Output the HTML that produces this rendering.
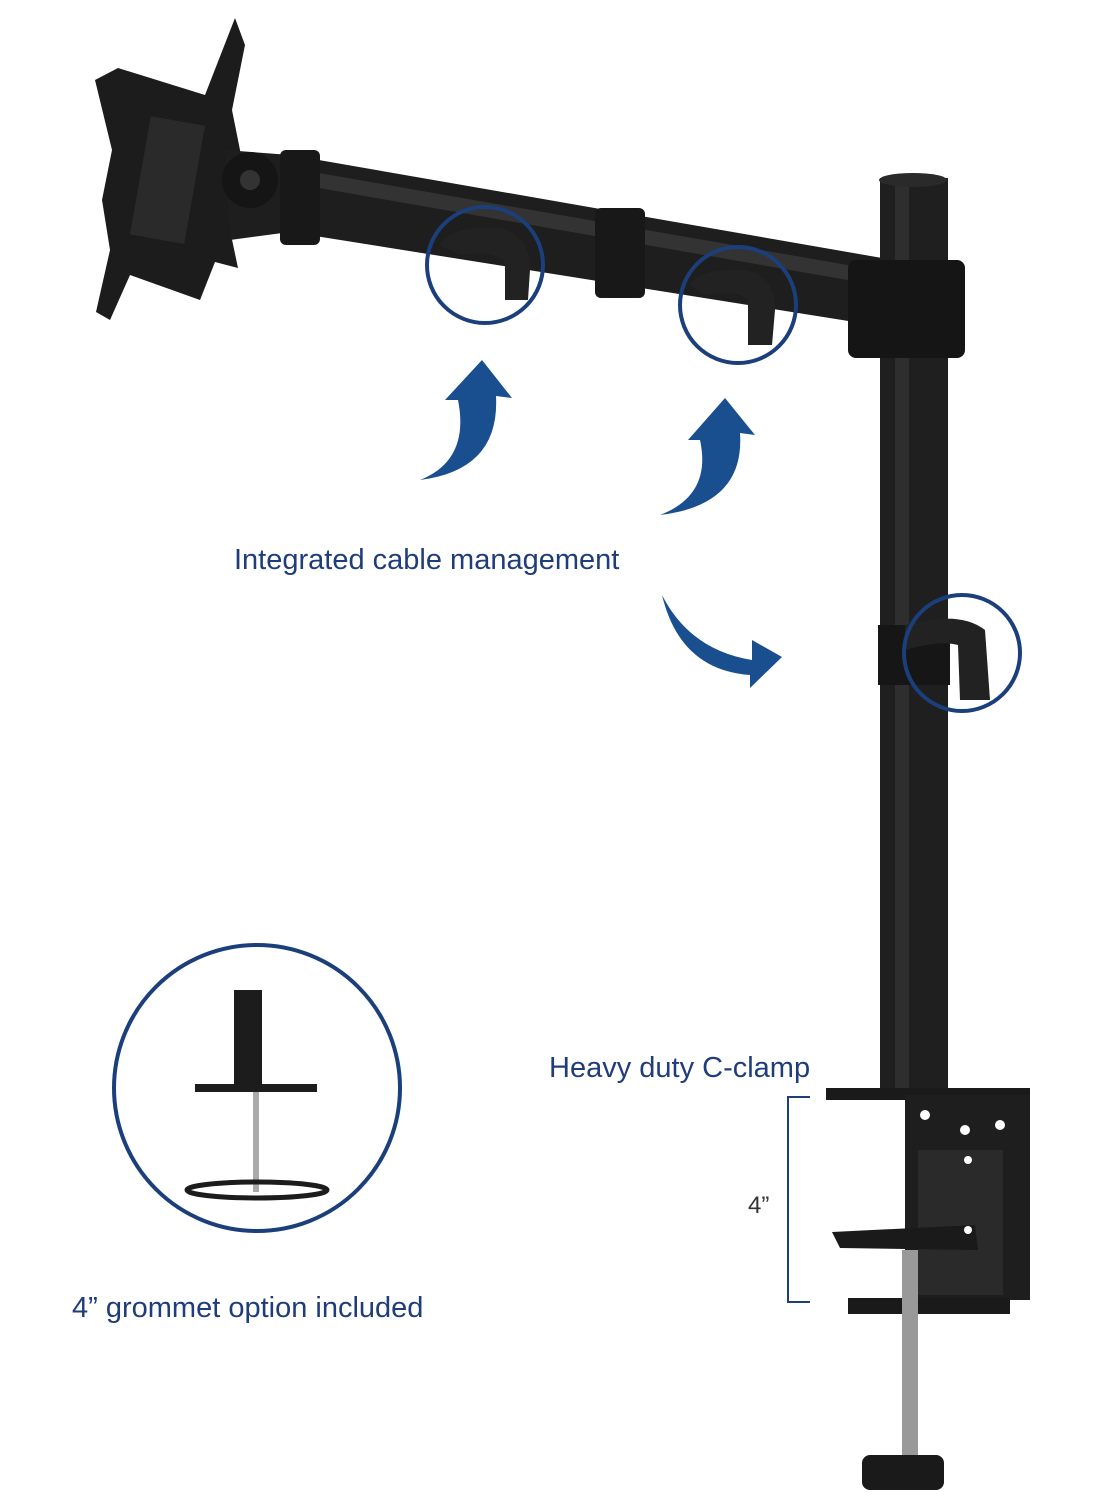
<!DOCTYPE html>
<html><head><meta charset="utf-8"><style>
html,body{margin:0;padding:0;background:#fff}
svg{display:block}
text{font-family:"Liberation Sans",sans-serif;fill:#1f3d7a}
</style></head><body>
<svg width="1112" height="1500" viewBox="0 0 1112 1500" xmlns="http://www.w3.org/2000/svg">
<path d="M118,68 L205,95 L235,18 L245,45 L232,110 L242,160 L230,230 L238,268 L215,262 L200,300 L130,275 L110,320 L96,312 L110,250 L102,200 L112,150 L95,80 Z" fill="#1c1c1c"/>
<rect x="140" y="120" width="55" height="120" fill="#2a2a2a" transform="rotate(10 167 180)"/>
<polygon points="225,150 290,155 905,262 905,330 290,232 230,240" fill="#1e1e1e"/>
<polygon points="290,168 905,275 905,290 290,183" fill="#333"/>
<circle cx="250" cy="180" r="28" fill="#151515"/>
<circle cx="250" cy="180" r="10" fill="#333"/>
<rect x="280" y="150" width="40" height="95" fill="#181818" rx="6"/>
<rect x="595" y="208" width="50" height="90" fill="#181818" rx="6"/>
<rect x="880" y="178" width="68" height="920" fill="#1f1f1f"/>
<rect x="895" y="178" width="14" height="920" fill="#2e2e2e"/>
<ellipse cx="913" cy="180" rx="34" ry="7" fill="#2a2a2a"/>
<rect x="848" y="260" width="117" height="98" fill="#151515" rx="8"/>
<rect x="878" y="625" width="72" height="60" fill="#161616"/>
<path d="M440,245 Q450,225 500,228 Q530,235 530,270 L528,300 L505,300 L505,262 Q495,250 460,255 Z" fill="#222"/>
<path d="M690,285 Q700,268 745,270 Q775,275 775,310 L772,345 L748,345 L748,300 Q740,290 705,295 Z" fill="#222"/>
<path d="M905,625 Q960,610 985,630 L990,700 L960,700 L958,645 Q940,640 905,650 Z" fill="#222"/>
<g fill="none" stroke="#1a3f7a" stroke-width="4">
<circle cx="485" cy="265" r="58"/>
<circle cx="738" cy="305" r="58"/>
<circle cx="962" cy="653" r="58"/>
<circle cx="257" cy="1088" r="143"/>
</g>
<g fill="#1a4f8f">
<path d="M420,480 Q470,460 458,400 L445,400 L482,360 L512,398 L496,396 Q500,470 420,480 Z"/>
<path d="M660,515 Q712,495 700,440 L688,440 L725,398 L755,435 L740,433 Q745,505 660,515 Z"/>
<path d="M662,595 Q690,650 752,660 L752,640 L782,657 L750,688 L750,675 Q680,670 662,595 Z"/>
</g>
<rect x="234" y="990" width="28" height="100" fill="#1c1c1c"/>
<rect x="195" y="1084" width="122" height="8" fill="#1c1c1c"/>
<rect x="253" y="1092" width="6" height="100" fill="#aaa"/>
<ellipse cx="257" cy="1190" rx="70" ry="8" fill="none" stroke="#1c1c1c" stroke-width="5"/>
<rect x="826" y="1088" width="204" height="12" fill="#1a1a1a"/>
<rect x="905" y="1095" width="125" height="205" fill="#1e1e1e"/>
<rect x="918" y="1150" width="85" height="145" fill="#2a2a2a"/>
<path d="M832,1232 L975,1225 L978,1250 L840,1248 Z" fill="#1a1a1a"/>
<rect x="848" y="1298" width="162" height="16" fill="#1a1a1a"/>
<rect x="902" y="1250" width="16" height="210" fill="#999"/>
<rect x="862" y="1455" width="82" height="35" rx="8" fill="#1a1a1a"/>
<g fill="#fff"><circle cx="925" cy="1115" r="5"/><circle cx="965" cy="1130" r="5"/><circle cx="1000" cy="1125" r="5"/><circle cx="968" cy="1160" r="4"/><circle cx="968" cy="1230" r="4"/></g>
<path d="M810,1097 L788,1097 L788,1302 L810,1302" fill="none" stroke="#1f3d7a" stroke-width="2"/>
<text x="234" y="569" font-size="29">Integrated cable management</text>
<text x="549" y="1077" font-size="29">Heavy duty C-clamp</text>
<text x="748" y="1213" font-size="24" style="fill:#333">4”</text>
<text x="72" y="1317" font-size="29">4” grommet option included</text>
</svg>
</body></html>
